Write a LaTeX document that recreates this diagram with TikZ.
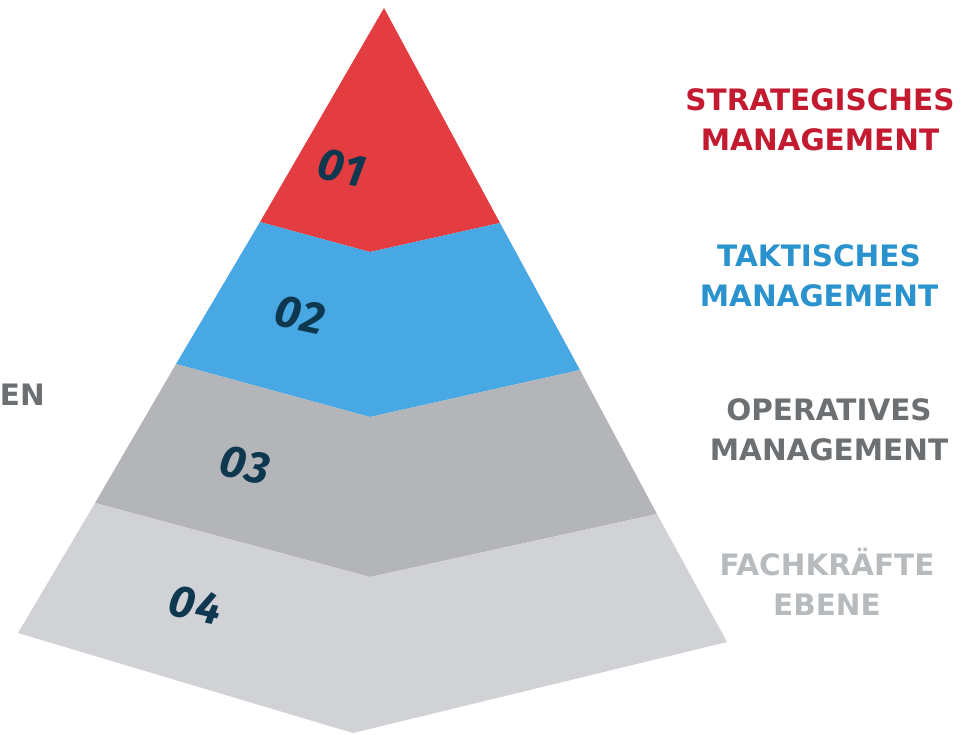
\documentclass[tikz,border=0pt]{standalone}
\usepackage{fontspec}
\setmainfont{DejaVu Sans}
\newfontfamily\numfont[LetterSpace=4]{Fira Sans}
\definecolor{redfill}{HTML}{E43D41}
\definecolor{redtext}{HTML}{C41A30}
\definecolor{bluefill}{HTML}{48A8E3}
\definecolor{bluetext}{HTML}{2A93CE}
\definecolor{grayfill}{HTML}{B4B5B8}
\definecolor{graytext}{HTML}{6D7073}
\definecolor{lightfill}{HTML}{D1D2D6}
\definecolor{lighttext}{HTML}{B8BBBE}
\definecolor{numcol}{HTML}{0E384F}
\begin{document}
\begin{tikzpicture}[x=1pt,y=-1pt,
  label/.style={align=center,inner sep=0pt,font=\bfseries\fontsize{29.5}{40}\selectfont},
  num/.style={inner sep=0pt,text=numcol,rotate=-12,font=\numfont\bfseries\itshape\fontsize{45}{45}\selectfont}]
\useasboundingbox (0,0) rectangle (965,734);
\coordinate (A) at (384,8);
\coordinate (L1) at (260,222); \coordinate (M1) at (370,252); \coordinate (R1) at (500,223);
\coordinate (L2) at (176,364); \coordinate (M2) at (370,417); \coordinate (R2) at (580,370);
\coordinate (L3) at (95,503);  \coordinate (M3) at (370,577); \coordinate (R3) at (657,514);
\coordinate (L4) at (18,633);  \coordinate (M4) at (353,733); \coordinate (R4) at (727,642);
\fill[redfill] (A) -- (R1) -- (M1) -- (L1) -- cycle;
\fill[bluefill] (L1) -- (M1) -- (R1) -- (R2) -- (M2) -- (L2) -- cycle;
\fill[grayfill] (L2) -- (M2) -- (R2) -- (R3) -- (M3) -- (L3) -- cycle;
\fill[lightfill] (L3) -- (M3) -- (R3) -- (R4) -- (M4) -- (L4) -- cycle;
\node[num] (n1) at (342,168) {01};
\node[num] (n2) at (300,315) {02};
\node[num] (n3) at (245,465) {03};
\node[num] (n4) at (195,605) {04};
\node[label,text=redtext] (t1) at (820,120) {STRATEGISCHES\\MANAGEMENT};
\node[label,text=bluetext] (t2) at (819,276) {TAKTISCHES\\MANAGEMENT};
\node[label,text=graytext] (t3) at (829,430) {OPERATIVES\\MANAGEMENT};
\node[label,text=lighttext] (t4) at (827,582) {FACHKRÄFTE\\EBENE};
\node[inner sep=0pt,anchor=east,text=graytext,font=\bfseries\fontsize{29.5}{40}\selectfont] (en) at (45,395) {EN};
\end{tikzpicture}
\end{document}
